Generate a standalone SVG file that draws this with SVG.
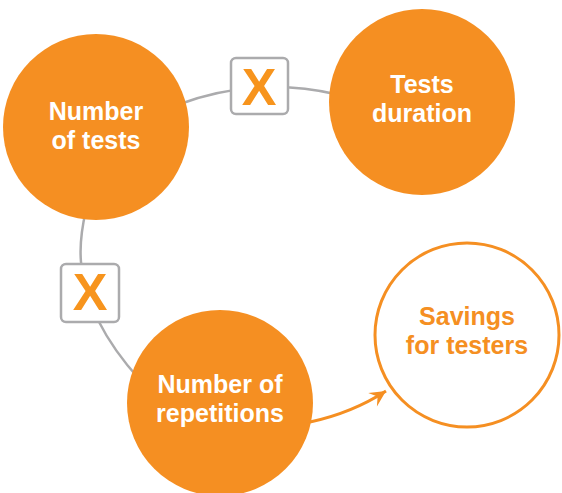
<svg xmlns="http://www.w3.org/2000/svg" width="562" height="493" viewBox="0 0 562 493">
<style>
.c{fill:#F58F22}
.lbl{font-family:"Liberation Sans",Arial,sans-serif;font-weight:700;font-size:25px;text-anchor:middle;fill:#fff}
.lo{fill:#F58F22}
.box{fill:#fff;stroke:#ABABAD;stroke-width:2.5}
.x{font-family:"Liberation Sans",Arial,sans-serif;font-weight:700;font-size:52px;text-anchor:middle;fill:#F7941D}
.gl{fill:none;stroke:#ABABAD;stroke-width:2.5}
</style>
<defs>
<marker id="ah" markerUnits="userSpaceOnUse" markerWidth="20" markerHeight="20" refX="0" refY="0" viewBox="-17 -9 20 18" orient="auto">
<path d="M0,0 L-16,-8 L-10,0 L-16,8 Z" fill="#F58F22"/>
</marker>
</defs>
<g id="connectors">
<path class="gl" d="M140,380 Q86,320 81,262 Q79,240 86,210"/>
<path class="gl" d="M180,104 Q258,76 335,94"/>
<path d="M310,422 Q352,413 386,391" fill="none" stroke="#F58F22" stroke-width="3" marker-end="url(#ah)"/>
</g>
<g id="op1">
<rect class="box" x="231" y="58" width="57" height="56" rx="5"/>
<text class="x" x="259" y="105">X</text>
</g>
<g id="op2">
<rect class="box" x="61" y="264" width="58" height="58" rx="5"/>
<text class="x" x="90" y="310">X</text>
</g>
<g id="n1">
<circle class="c" cx="96" cy="127" r="93"/>
<text class="lbl" x="96" y="120">Number</text>
<text class="lbl" x="96" y="149">of tests</text>
</g>
<g id="n2">
<circle class="c" cx="422" cy="102" r="93"/>
<text class="lbl" x="422" y="93">Tests</text>
<text class="lbl" x="422" y="122">duration</text>
</g>
<g id="n3">
<circle class="c" cx="220" cy="403" r="93"/>
<text class="lbl" x="220" y="393">Number of</text>
<text class="lbl" x="220" y="422">repetitions</text>
</g>
<g id="n4">
<circle cx="467" cy="335" r="92" fill="#fff" stroke="#F58F22" stroke-width="3"/>
<text class="lbl lo" x="467" y="325">Savings</text>
<text class="lbl lo" x="467" y="354">for testers</text>
</g>
</svg>
